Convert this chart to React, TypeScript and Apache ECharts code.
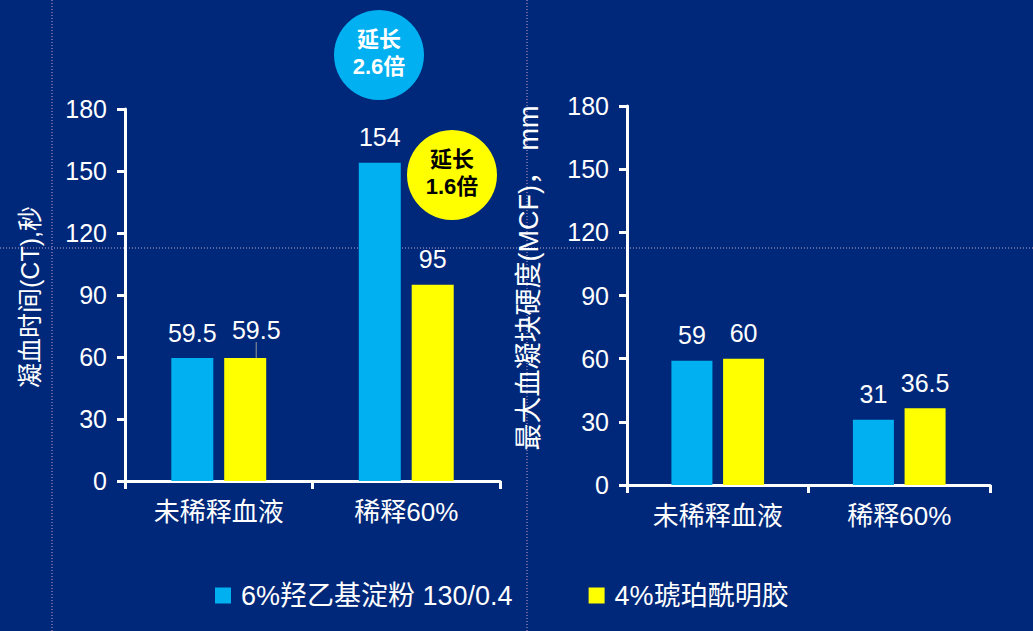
import React, { useEffect, useRef } from "react";
import * as echarts from "echarts";

const categories = ["未稀释血液", "稀释60%"];
const seriesNames = ["6%羟乙基淀粉 130/0.4", "4%琥珀酰明胶"];
const ctHES = [59.5, 154];
const ctGel = [59.5, 95];
const mcfHES = [59, 31];
const mcfGel = [60, 36.5];
const yTicks = { min: 0, max: 180, interval: 30 };
const leftAxisName = "凝血时间(CT),秒";
const rightAxisName = "最大血凝块硬度(MCF)， mm";
const badges = [
  { text: "延长\n2.6倍", color: "#00b0f0", textColor: "#ffffff" },
  { text: "延长\n1.6倍", color: "#ffff00", textColor: "#000000" },
];

const BG = "#00287a";
const BLUE = "#00b0f0";
const YELLOW = "#ffff00";
const FONT = "'Liberation Sans', Arial, 'Noto Sans CJK SC', sans-serif";

export default function App() {
  const ref = useRef<HTMLDivElement>(null);
  useEffect(() => {
    if (!ref.current) return;
    const chart = echarts.init(ref.current, undefined, { renderer: "svg" });
    const axisLine = { show: true, lineStyle: { color: "#ffffff", width: 3 } };
    const xAxisCommon = {
      type: "category",
      data: categories,
      axisLine,
      axisTick: { show: true, length: 8, lineStyle: { color: "#ffffff", width: 3 } },
      axisLabel: { color: "#ffffff", fontSize: 26, margin: 18, fontFamily: FONT },
      splitLine: { show: false },
    };
    const yAxisCommon = {
      type: "value",
      min: yTicks.min,
      max: yTicks.max,
      interval: yTicks.interval,
      axisLine,
      axisTick: { show: true, length: 8, lineStyle: { color: "#ffffff", width: 3 } },
      axisLabel: { color: "#ffffff", fontSize: 25, margin: 18, fontFamily: FONT },
      splitLine: { show: false },
    };
    const label = {
      show: true,
      position: "top",
      distance: 13,
      color: "#ffffff",
      fontSize: 25,
      fontFamily: FONT,
    };
    const mkBar = (name: string, data: any[], idx: number, color: string, width: number, extra: any = {}) => ({
      type: "bar",
      name,
      data,
      xAxisIndex: idx,
      yAxisIndex: idx,
      barWidth: width,
      barGap: "26%",
      itemStyle: { color },
      label,
      ...extra,
    });
    const dotted = { stroke: "#c9a3c9", lineWidth: 1, lineDash: [1, 2] };
    const gelData = ctGel.map((v, i) =>
      i === 0 ? { value: v, labelLine: { show: true, lineStyle: { color: "#9a9a9a", width: 1 } } } : v
    );
    chart.setOption({
      animation: false,
      backgroundColor: BG,
      grid: [
        { left: 125, top: 109, width: 375, height: 372 },
        { left: 627, top: 106, width: 363, height: 379 },
      ],
      xAxis: [
        { ...xAxisCommon, gridIndex: 0 },
        { ...xAxisCommon, gridIndex: 1 },
      ],
      yAxis: [
        { ...yAxisCommon, gridIndex: 0 },
        { ...yAxisCommon, gridIndex: 1 },
      ],
      legend: {
        left: 210,
        top: 577,
        itemWidth: 16,
        itemHeight: 16,
        itemGap: 76,
        icon: "rect",
        textStyle: { color: "#ffffff", fontSize: 27, fontFamily: FONT, padding: [0, 0, 0, 5] },
        data: seriesNames,
      },
      series: [
        mkBar(seriesNames[0], ctHES, 0, BLUE, 42),
        mkBar(seriesNames[1], gelData, 0, YELLOW, 42, {
          labelLayout: (p: any) => (p.dataIndex === 0 ? { dx: 11, dy: -3 } : {}),
        }),
        mkBar(seriesNames[0], mcfHES, 1, BLUE, 41),
        mkBar(seriesNames[1], mcfGel, 1, YELLOW, 41),
      ],
      graphic: [
        { type: "line", shape: { x1: 52, y1: 0, x2: 52, y2: 631 }, style: dotted, silent: true },
        { type: "line", shape: { x1: 527, y1: 0, x2: 527, y2: 631 }, style: dotted, silent: true },
        { type: "line", shape: { x1: 0, y1: 248, x2: 1033, y2: 248 }, style: dotted, silent: true },
        {
          type: "text",
          x: 30,
          y: 297,
          rotation: Math.PI / 2,
          style: {
            text: leftAxisName,
            fill: "#ffffff",
            fontSize: 25,
            fontFamily: FONT,
            align: "center",
            verticalAlign: "middle",
          },
        },
        {
          type: "text",
          x: 529,
          y: 278,
          rotation: Math.PI / 2,
          style: {
            text: rightAxisName,
            fill: "#ffffff",
            fontSize: 27,
            fontFamily: FONT,
            align: "center",
            verticalAlign: "middle",
          },
        },
        { type: "circle", shape: { cx: 379, cy: 55, r: 45 }, style: { fill: badges[0].color } },
        {
          type: "text",
          x: 379,
          y: 53,
          style: {
            text: badges[0].text,
            fill: badges[0].textColor,
            fontSize: 22,
            fontWeight: "bold",
            lineHeight: 27,
            fontFamily: FONT,
            align: "center",
            verticalAlign: "middle",
          },
        },
        { type: "circle", shape: { cx: 452, cy: 175, r: 45 }, style: { fill: badges[1].color } },
        {
          type: "text",
          x: 452,
          y: 173,
          style: {
            text: badges[1].text,
            fill: badges[1].textColor,
            fontSize: 22,
            fontWeight: "bold",
            lineHeight: 27,
            fontFamily: FONT,
            align: "center",
            verticalAlign: "middle",
          },
        },
      ],
    });
    return () => chart.dispose();
  }, []);
  return <div ref={ref} style={{ position: "absolute", left: 0, top: 0, width: 1033, height: 631 }} />;
}
